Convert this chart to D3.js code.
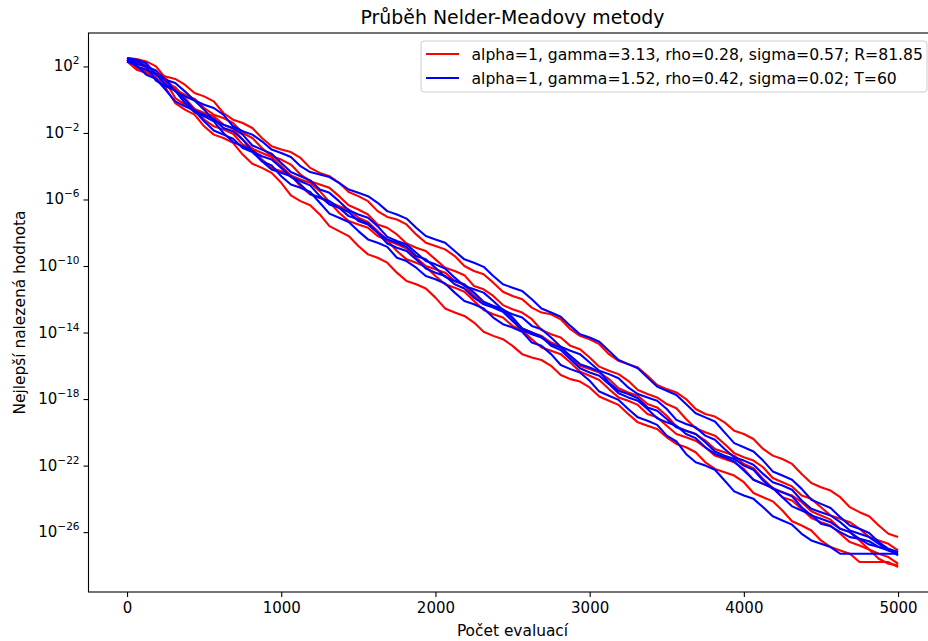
<!DOCTYPE html>
<html>
<head>
<meta charset="utf-8">
<script src="https://cdn.jsdelivr.net/npm/d3@7"></script>
<style>
  html, body { margin: 0; padding: 0; background: #fff; }
  svg { display: block; font-family: "DejaVu Sans", sans-serif; }
</style>
</head>
<body>
<svg id="chart" width="928" height="641"></svg>
<script>
// ---- data (values are log10 of the best value found) ----
const evaluations = [0,62.5,125,187.5,250,312.5,375,437.5,500,562.5,625,687.5,750,812.5,875,937.5,1000,1062.5,1125,1187.5,1250,1312.5,1375,1437.5,1500,1562.5,1625,1687.5,1750,1812.5,1875,1937.5,2000,2062.5,2125,2187.5,2250,2312.5,2375,2437.5,2500,2562.5,2625,2687.5,2750,2812.5,2875,2937.5,3000,3062.5,3125,3187.5,3250,3312.5,3375,3437.5,3500,3562.5,3625,3687.5,3750,3812.5,3875,3937.5,4000,4062.5,4125,4187.5,4250,4312.5,4375,4437.5,4500,4562.5,4625,4687.5,4750,4812.5,4875,4937.5,5000];

const redLabel = "alpha=1, gamma=3.13, rho=0.28, sigma=0.57; R=81.85";
const blueLabel = "alpha=1, gamma=1.52, rho=0.42, sigma=0.02; T=60";

const redRun1 = [2.4,2.3,2.1,1.6,1.4,1.25,0.9,0.4,0.2,-0.1,-0.8,-1.2,-1.4,-1.7,-2.3,-2.8,-3.0,-3.15,-3.5,-4.1,-4.4,-4.6,-5.0,-5.55,-5.8,-6.1,-6.7,-7.05,-7.2,-7.5,-8.1,-8.6,-8.8,-9.0,-9.4,-10.0,-10.3,-10.5,-11.0,-11.55,-11.8,-12.0,-12.5,-12.8,-12.9,-13.2,-13.8,-14.2,-14.4,-14.7,-15.3,-15.7,-15.9,-16.1,-16.6,-17.15,-17.4,-17.6,-18.0,-18.6,-18.9,-19.05,-19.4,-19.9,-20.1,-20.4,-21.0,-21.4,-21.6,-21.9,-22.5,-23.05,-23.3,-23.5,-23.9,-24.5,-24.8,-25.05,-25.6,-26.1,-26.3];
const redRun2 = [2.3,1.8,1.6,1.35,0.7,-0.2,-0.6,-0.9,-1.6,-2.1,-2.3,-2.6,-3.3,-3.85,-4.1,-4.4,-5.0,-5.75,-6.1,-6.35,-6.9,-7.6,-7.9,-8.2,-8.8,-9.3,-9.5,-9.8,-10.4,-10.9,-11.1,-11.35,-11.9,-12.55,-12.8,-13.0,-13.4,-13.95,-14.2,-14.4,-14.8,-15.3,-15.5,-15.65,-16.0,-16.55,-16.8,-16.95,-17.3,-17.85,-18.1,-18.35,-18.9,-19.4,-19.6,-19.8,-20.3,-20.7,-20.9,-21.2,-21.8,-22.2,-22.4,-22.6,-23.0,-23.65,-23.9,-24.15,-24.7,-25.35,-25.6,-25.9,-26.5,-26.9,-27.1,-27.3,-27.8,-27.8,-27.8,-27.8,-28.1];
const redRun3 = [2.5,2.45,2.3,2.0,1.3,0.6,0.3,0.05,-0.5,-0.9,-1.1,-1.4,-2.0,-2.3,-2.9,-3.4,-3.6,-3.9,-4.5,-4.9,-5.1,-5.3,-5.8,-6.35,-6.6,-6.9,-7.5,-7.7,-8.1,-8.65,-8.9,-9.1,-9.6,-10.1,-10.3,-10.55,-11.2,-11.4,-11.8,-12.35,-12.6,-12.8,-13.2,-13.85,-14.1,-14.3,-14.8,-15.0,-15.5,-16.05,-16.3,-16.5,-16.9,-17.45,-17.7,-17.9,-18.3,-18.55,-19.2,-19.75,-20.0,-20.2,-20.7,-21.25,-21.5,-21.7,-22.1,-22.75,-23.0,-23.25,-23.8,-24.0,-24.5,-25.0,-25.2,-25.4,-25.8,-26.3,-26.5,-26.7,-27.1];
const redRun4 = [2.3,2.2,1.9,1.25,1.0,0.75,0.1,-0.55,-0.8,-1.0,-1.5,-1.75,-2.4,-2.95,-3.2,-3.45,-4.0,-4.55,-4.8,-5.0,-5.5,-6.15,-6.4,-6.6,-7.1,-7.35,-7.9,-8.45,-8.7,-8.95,-9.5,-10.0,-10.2,-10.4,-10.9,-11.15,-11.8,-12.2,-12.4,-12.65,-13.2,-13.75,-14.0,-14.2,-14.6,-14.85,-15.5,-16.0,-16.2,-16.4,-16.8,-17.35,-17.6,-17.8,-18.3,-18.5,-19.0,-19.65,-19.9,-20.1,-20.5,-21.0,-21.2,-21.4,-21.9,-22.15,-22.8,-23.35,-23.6,-23.8,-24.2,-24.75,-25.0,-25.25,-25.8,-26.0,-26.5,-27.05,-27.3,-27.5,-27.9];
const redRun5 = [2.4,1.9,1.7,1.5,1.1,0.1,-0.3,-0.55,-1.2,-1.6,-1.8,-2.05,-2.7,-2.95,-3.6,-4.1,-4.3,-4.55,-5.2,-5.7,-5.9,-6.15,-6.8,-7.3,-7.5,-7.7,-8.2,-8.45,-9.1,-9.6,-9.8,-10.05,-10.6,-11.1,-11.3,-11.55,-12.1,-12.65,-12.9,-13.1,-13.6,-13.85,-14.4,-14.9,-15.1,-15.3,-15.8,-16.35,-16.6,-16.85,-17.4,-17.9,-18.1,-18.35,-18.9,-19.1,-19.6,-20.1,-20.3,-20.5,-20.9,-21.4,-21.6,-21.8,-22.2,-22.85,-23.1,-23.35,-23.9,-24.1,-24.6,-25.15,-25.4,-25.6,-26.1,-26.6,-26.8,-27.05,-27.6,-27.9,-28.0];

const blueRun1 = [2.5,2.4,2.2,1.5,1.2,1.0,0.5,-0.05,-0.3,-0.5,-0.9,-1.6,-1.9,-2.1,-2.5,-3.0,-3.2,-3.45,-4.0,-4.35,-4.5,-4.65,-5.0,-5.4,-5.6,-5.8,-6.2,-6.7,-6.9,-7.15,-7.7,-8.2,-8.4,-8.6,-9.1,-9.6,-9.8,-10.05,-10.6,-11.1,-11.3,-11.5,-12.0,-12.55,-12.8,-13.05,-13.6,-14.1,-14.3,-14.55,-15.1,-15.65,-15.9,-16.15,-16.7,-17.25,-17.5,-17.75,-18.3,-18.85,-19.1,-19.35,-20.0,-20.65,-20.9,-21.15,-21.7,-22.35,-22.6,-22.85,-23.4,-24.05,-24.3,-24.55,-25.1,-25.6,-25.8,-26.05,-26.6,-27.0,-27.2];
const blueRun2 = [2.5,2.15,2.0,1.75,1.2,0.5,0.2,-0.05,-0.6,-1.25,-1.5,-1.7,-2.1,-2.75,-3.0,-3.25,-3.8,-4.35,-4.6,-4.85,-5.4,-5.6,-6.1,-6.65,-6.9,-7.1,-7.6,-8.25,-8.5,-8.7,-9.2,-9.7,-9.9,-10.15,-10.7,-11.2,-11.4,-11.6,-12.1,-12.65,-12.9,-13.1,-13.6,-13.8,-14.3,-14.85,-15.1,-15.3,-15.8,-16.3,-16.5,-16.75,-17.3,-17.7,-17.9,-18.1,-18.6,-19.25,-19.5,-19.7,-20.2,-20.45,-21.0,-21.5,-21.7,-21.95,-22.5,-23.0,-23.2,-23.45,-24.1,-24.6,-24.8,-25.0,-25.4,-25.9,-26.1,-26.3,-26.7,-27.1,-27.3];
const blueRun3 = [2.4,2.3,2.0,1.15,0.8,0.55,0.0,-0.65,-0.9,-1.15,-1.7,-1.9,-2.4,-3.1,-3.4,-3.6,-4.1,-4.65,-4.9,-5.15,-5.8,-6.3,-6.5,-6.75,-7.3,-7.5,-8.0,-8.65,-8.9,-9.1,-9.6,-10.15,-10.4,-10.6,-11.1,-11.35,-11.9,-12.3,-12.5,-12.75,-13.3,-13.85,-14.1,-14.3,-14.7,-14.9,-15.4,-15.9,-16.1,-16.35,-17.0,-17.5,-17.7,-17.95,-18.5,-18.7,-19.2,-19.7,-19.9,-20.1,-20.6,-21.15,-21.4,-21.6,-22.0,-22.25,-22.9,-23.4,-23.6,-23.85,-24.5,-25.0,-25.2,-25.4,-25.8,-26.0,-26.4,-26.75,-26.9,-27.05,-27.4];
const blueRun4 = [2.3,2.05,1.5,1.25,0.6,-0.1,-0.4,-0.65,-1.3,-1.85,-2.1,-2.35,-2.9,-3.15,-3.7,-4.2,-4.4,-4.6,-5.1,-5.65,-5.9,-6.1,-6.5,-7.0,-7.2,-7.45,-8.0,-8.4,-8.6,-8.85,-9.4,-9.6,-10.1,-10.65,-10.9,-11.1,-11.6,-12.15,-12.4,-12.6,-13.1,-13.75,-14.0,-14.25,-14.8,-15.05,-15.6,-16.15,-16.4,-16.6,-17.1,-17.65,-17.9,-18.1,-18.6,-19.15,-19.4,-19.6,-20.1,-20.35,-20.9,-21.3,-21.5,-21.75,-22.3,-22.85,-23.1,-23.35,-23.9,-24.45,-24.7,-24.95,-25.5,-25.65,-26.0,-26.3,-26.4,-26.55,-26.9,-27.1,-27.2];
const blueRun5 = [2.4,2.0,1.8,1.55,0.9,0.55,-0.2,-0.75,-1.0,-1.3,-2.0,-2.55,-2.8,-3.05,-3.7,-3.95,-4.6,-5.1,-5.3,-5.55,-6.2,-6.85,-7.1,-7.35,-7.9,-8.4,-8.6,-8.85,-9.5,-9.7,-10.1,-10.6,-10.8,-11.05,-11.6,-12.1,-12.3,-12.55,-13.1,-13.5,-13.7,-13.95,-14.6,-14.8,-15.3,-15.95,-16.2,-16.4,-16.9,-17.55,-17.8,-18.05,-18.6,-19.1,-19.3,-19.55,-20.2,-20.55,-21.3,-21.8,-22.0,-22.25,-22.9,-23.55,-23.8,-24.0,-24.5,-25.05,-25.3,-25.55,-26.1,-26.5,-26.7,-26.9,-27.3,-27.3,-27.3,-27.3,-27.3,-27.3,-27.3];

const xTicks = [0, 1000, 2000, 3000, 4000, 5000];
const yTickExponents = [2, -2, -6, -10, -14, -18, -22, -26];

const redRuns = [redRun1, redRun2, redRun3, redRun4, redRun5];
const blueRuns = [blueRun1, blueRun2, blueRun3, blueRun4, blueRun5];

// ---- layout ----
const svg = d3.select("#chart");
const plot = { left: 88.5, top: 33, bottom: 592, right: 936.6 };

const x = d3.scaleLinear().domain([-250, 5250]).range([plot.left, plot.right]);
const y = d3.scaleLog().domain([Math.pow(10, -29.6), Math.pow(10, 4.01)]).range([plot.bottom, plot.top]);

svg.append("defs").append("clipPath").attr("id", "clip")
  .append("rect").attr("x", plot.left).attr("y", plot.top)
  .attr("width", plot.right - plot.left).attr("height", plot.bottom - plot.top);

const line = d3.line()
  .x((d, i) => x(evaluations[i]))
  .y(d => y(Math.pow(10, d)));

const lines = svg.append("g").attr("clip-path", "url(#clip)");
redRuns.forEach(run => {
  lines.append("path").attr("d", line(run)).attr("fill", "none")
    .attr("stroke", "#ff0000").attr("stroke-width", 2.1).attr("stroke-linejoin", "round");
});
blueRuns.forEach(run => {
  lines.append("path").attr("d", line(run)).attr("fill", "none")
    .attr("stroke", "#0000ff").attr("stroke-width", 2.1).attr("stroke-linejoin", "round");
});

// ---- axes ----
const xAxis = d3.axisBottom(x).tickValues(xTicks).tickSize(5).tickPadding(5).tickFormat(d3.format("d"));
const gx = svg.append("g").attr("transform", `translate(0,${plot.bottom})`).call(xAxis);
gx.select(".domain").remove();
gx.selectAll("line").attr("stroke", "#000").attr("stroke-width", 1.1);
gx.selectAll("text").attr("font-size", 15).attr("fill", "#000")
  .attr("font-family", "DejaVu Sans");

const yAxis = d3.axisLeft(y).tickValues(yTickExponents.map(e => Math.pow(10, e))).tickSize(5).tickFormat("");
const gy = svg.append("g").attr("transform", `translate(${plot.left},0)`).call(yAxis);
gy.select(".domain").remove();
gy.selectAll("line").attr("stroke", "#000").attr("stroke-width", 1.1);

yTickExponents.forEach(e => {
  const t = svg.append("text")
    .attr("x", plot.left - 9).attr("y", y(Math.pow(10, e)) + 5)
    .attr("text-anchor", "end").attr("font-size", 15).attr("fill", "#000");
  t.append("tspan").text("10");
  t.append("tspan").attr("dy", -7).attr("font-size", 10.5).text(e < 0 ? "\u2212" + Math.abs(e) : String(e));
});

// spines
svg.append("rect").attr("x", plot.left).attr("y", plot.top)
  .attr("width", plot.right - plot.left).attr("height", plot.bottom - plot.top)
  .attr("fill", "none").attr("stroke", "#000").attr("stroke-width", 1.1);

// ---- titles ----
svg.append("text").attr("x", 512.5).attr("y", 24).attr("text-anchor", "middle")
  .attr("font-size", 18.9).attr("fill", "#000").text("Průběh Nelder-Meadovy metody");
svg.append("text").attr("x", 512.5).attr("y", 636).attr("text-anchor", "middle")
  .attr("font-size", 15.4).attr("fill", "#000").text("Počet evaluací");
svg.append("text").attr("transform", `translate(25,${(plot.top + plot.bottom) / 2}) rotate(-90)`)
  .attr("text-anchor", "middle").attr("font-size", 15.4).attr("fill", "#000")
  .text("Nejlepší nalezená hodnota");

// ---- legend ----
const legend = svg.append("g");
legend.append("rect").attr("x", 421).attr("y", 41).attr("width", 506).attr("height", 51)
  .attr("rx", 3).attr("fill", "#fff").attr("fill-opacity", 0.8)
  .attr("stroke", "#ccc").attr("stroke-width", 1);
[[redLabel, "#ff0000", 54], [blueLabel, "#0000ff", 78]].forEach(([label, color, cy]) => {
  legend.append("line").attr("x1", 426).attr("x2", 459).attr("y1", cy).attr("y2", cy)
    .attr("stroke", color).attr("stroke-width", 2.1);
  legend.append("text").attr("x", 471.5).attr("y", cy + 5.5).attr("font-size", 15.65)
    .attr("fill", "#000").text(label);
});
</script>
</body>
</html>
